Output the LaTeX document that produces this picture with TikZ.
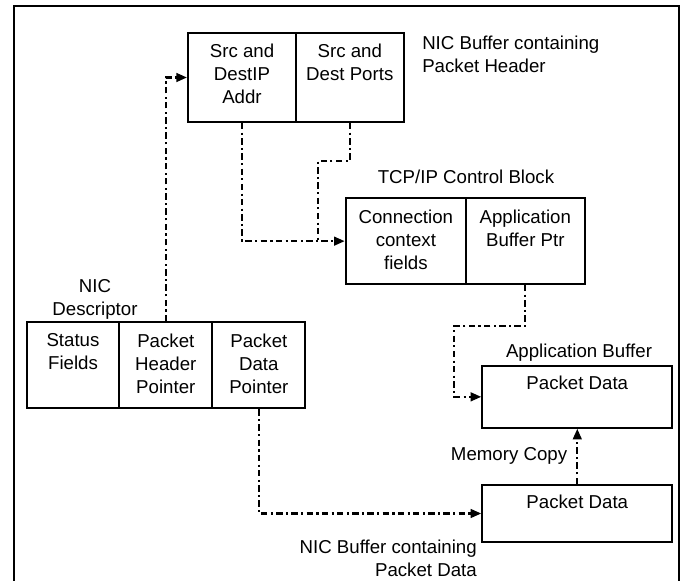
\documentclass[tikz,border=0pt]{standalone}
\usepackage{fontspec}
\setmainfont{Liberation Sans}
\usetikzlibrary{arrows.meta,calc}

\tikzset{
  cell/.style={draw, line width=1.5pt, inner sep=0pt, minimum height=#1},
  cell/.default=66.75pt,
  txt/.style={inner sep=0pt, align=center, font=\fontsize{14}{17.25}\selectfont},
  intxt/.style={txt, anchor=north, yshift=-9pt},
  link/.style={line width=1.7pt, line cap=butt,
    dash pattern=on 4.8pt off 2.5pt on 1.6pt off 2.5pt},
  linkarrow/.style={link, -{Triangle[length=8pt,width=6.5pt]}},
}

\begin{document}
\begin{tikzpicture}[x=0.75pt, y=-0.75pt]
\useasboundingbox (0,0) rectangle (683,581);

% outer frame (open at the bottom)
\draw[line width=1.7pt] (14.3,595) |- (678.7,6) -- (678.7,595);

% NIC buffer holding the packet header
\node[cell, minimum width=81pt] (srcip) at (242,77.5) {};
\node[cell, minimum width=80.7pt] (srcport) at (349.8,77.5) {};
\node[intxt] at (srcip.north) {Src and\\DestIP\\Addr};
\node[intxt] at (srcport.north) {Src and\\Dest Ports};
\node[txt, anchor=north west, align=left] (hdrlbl) at (422,36)
  {NIC Buffer containing\\Packet Header};

% TCP/IP control block
\node[cell=64.3pt, minimum width=90.2pt] (ctx) at (405.85,241.15) {};
\node[cell=64.3pt, minimum width=88.95pt] (appptr) at (525.3,241.15) {};
\node[intxt] at (ctx.north) {Connection\\context\\fields};
\node[intxt] at (appptr.north) {Application\\Buffer Ptr};
\node[txt, anchor=north] (tcblbl) at (466,170) {TCP/IP Control Block};

% NIC descriptor
\node[cell=64.5pt, minimum width=69.45pt] (status) at (73,365.3) {};
\node[cell=64.5pt, minimum width=69.75pt] (hdrptr) at (165.8,365.3) {};
\node[cell=64.5pt, minimum width=69.8pt] (dataptr) at (258.85,365.3) {};
\node[intxt] at (status.north) {Status\\Fields};
\node[intxt] at (hdrptr.north) {Packet\\Header\\Pointer};
\node[intxt] at (dataptr.north) {Packet\\Data\\Pointer};
\node[txt, anchor=north] (desclbl) at (95,279) {NIC\\Descriptor};

% application buffer
\node[cell=46.3pt, minimum width=142.5pt] (appbuf) at (577.3,396.85) {};
\node[intxt, yshift=0.75pt] at (appbuf.north) {Packet Data};
\node[txt, anchor=north] (applbl) at (579,344) {Application Buffer};

% NIC buffer holding the packet data
\node[cell=42.75pt, minimum width=142.5pt] (nicbuf) at (577.3,513.5) {};
\node[intxt, yshift=0.75pt] at (nicbuf.north) {Packet Data};
\node[txt, anchor=north east, align=right] (datalbl) at (477,540)
  {NIC Buffer containing\\Packet Data};

% pointers
\coordinate (join) at (318,241.15);
\draw[linkarrow] (hdrptr.north) |- (srcip.west);
\draw[linkarrow] (srcip.south) |- (ctx.west);
\draw[link] (srcport.south) -- ++(0,38) -| (join);
\draw[linkarrow] (appptr.south) -- ++(0,41) -| ($(appbuf.west)+(-27,0)$) -- (appbuf.west);
\draw[linkarrow] (dataptr.south) |- (nicbuf.west);
\draw[linkarrow] (nicbuf.north) -- node[txt, anchor=east, xshift=-6.75pt] {Memory Copy} (appbuf.south);
\end{tikzpicture}
\end{document}
